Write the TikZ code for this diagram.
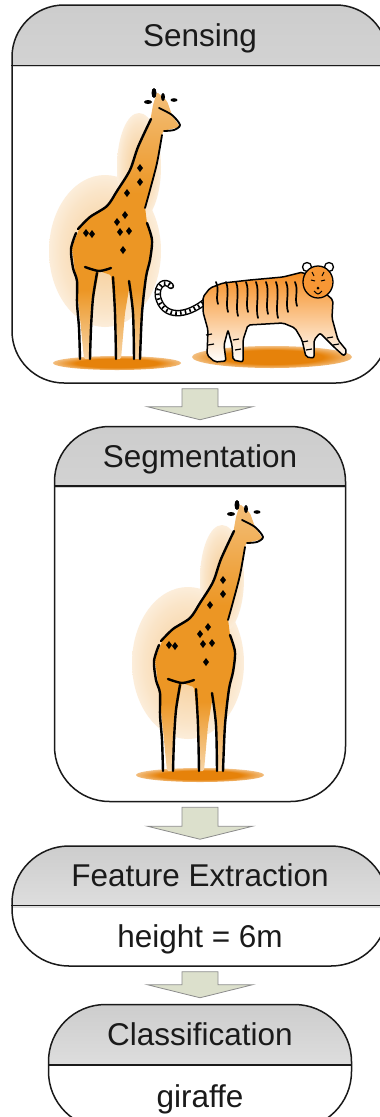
\documentclass[tikz,border=0pt]{standalone}
\usepackage{fontspec}
\setmainfont{Liberation Sans}
\usetikzlibrary{positioning}
\definecolor{ink}{RGB}{26,26,26}
\definecolor{headtop}{RGB}{188,188,188}
\definecolor{headbottom}{RGB}{250,250,250}
\definecolor{arrowfill}{RGB}{220,224,204}
\definecolor{arrowline}{RGB}{140,140,140}
\definecolor{giraffeorange}{RGB}{236,150,36}
\definecolor{tigerorange}{RGB}{246,140,30}
\definecolor{pooltone}{RGB}{230,130,10}
\pgfdeclareverticalshading{headshade}{100bp}{color(0bp)=(headbottom); color(8bp)=(headbottom); color(100bp)=(headtop)}
\pgfdeclareverticalshading{giraffebody}{100bp}{color(0bp)=(giraffeorange!15); color(25bp)=(giraffeorange!40);
  color(38bp)=(giraffeorange); color(56bp)=(giraffeorange); color(78bp)=(giraffeorange!55); color(100bp)=(giraffeorange!15)}
\pgfdeclareradialshading{pool}{\pgfpointorigin}{color(0bp)=(pooltone); color(16bp)=(pooltone); color(35bp)=(white); color(50bp)=(white)}
\pgfdeclareradialshading{giraffeglow}{\pgfpointorigin}{color(0bp)=(giraffeorange!50); color(20bp)=(giraffeorange!25); color(35bp)=(white); color(50bp)=(white)}
\tikzset{stage/.style={draw=ink, line width=1.5pt, fill=white, rounded corners=#1, inner sep=0pt,
    path picture={\shade[sharp corners, shading=headshade]
      (path picture bounding box.north west) rectangle ([yshift=-61pt]path picture bounding box.north east);}},
  stage/.default=52pt}
\tikzset{stage title/.style={font=\fontsize{31.5pt}{36pt}\selectfont, text=ink, minimum height=61pt,
    inner sep=0pt, text height=22.5pt, text depth=0pt}}
\tikzset{step arrow/.style={draw=arrowline, fill=arrowfill, line width=0.8pt, line join=miter}}
\tikzset{brush/.style={draw=black, line width=2.4pt, line cap=round, line join=round}}
\tikzset{giraffe/.pic={
    \shade[shading=giraffeglow] (-12,-112) ellipse (56 and 76);
    \shade[shading=giraffeglow] (22,-196) ellipse (22 and 54);
    \shade[shading=pool] (0,0) ellipse (64 and 7);
    \shade[shading=giraffebody, rounded corners=1.5pt] (63,-236) -- (46,-232) -- (40,-200) -- (33,-173) -- (28,-156)
      -- (30,-140) -- (35,-123) -- (33,-103) -- (29,-86) -- (25,-50) -- (23,-4) -- (17,-4) -- (16,-50)
      -- (13,-80) -- (8,-50) -- (4,-4) -- (-2,-4) -- (-2,-50) -- (-6,-88) -- (-18,-92) -- (-24,-60)
      -- (-27,-4) -- (-33,-4) -- (-37,-45) -- (-41,-83) -- (-45,-116) -- (-37,-136) -- (-27,-146)
      -- (-10,-156) -- (0,-170) -- (13,-193) -- (21,-216) -- (33,-241) -- (36,-258) -- (40,-271)
      -- (50,-262) -- (55,-248) -- cycle;
    \draw[brush] plot[smooth] coordinates {(34,-244) (21,-216) (13,-193) (0,-172) (-10,-157) (-27,-146) (-39,-134)};
    \draw[brush] plot[smooth] coordinates {(-41,-130) (-46,-114) (-44,-95) (-40,-82) (-40,-60) (-38,-35) (-37,-4)};
    \draw[brush] plot[smooth] coordinates {(-20,-90) (-24,-65) (-26,-35) (-27,-4)};
    \draw[brush] plot[smooth] coordinates {(-32,-96) (-18,-92) (-6,-95)};
    \draw[brush] plot[smooth] coordinates {(-4,-86) (-2,-50) (-1,-4)};
    \draw[brush] plot[smooth] coordinates {(12,-82) (16,-50) (17,-4)};
    \draw[brush] plot[smooth] coordinates {(30,-140) (35,-123) (33,-103) (29,-86) (25,-50) (23,-4)};
    \draw[brush, line width=1.8pt] plot[smooth] coordinates {(28,-155) (33,-173) (40,-200) (45,-228)};
    \draw[brush, line width=1.8pt] plot[smooth] coordinates {(42,-255) (55,-248) (63,-238) (57,-233) (47,-232)};
    \fill (37,-270) ellipse (2.5 and 5);
    \fill (46,-266) ellipse (2 and 4);
    \fill (31,-261) ellipse (4 and 2);
    \fill (57,-263) ellipse (3.5 and 1.8);
    \foreach \px/\py in {23/-195, 23/-181, 10/-170, 8/-148, 0/-141, 3/-131, 12/-132, 6/-113, -31/-130, -25/-129}
      \fill (\px,\py-4) -- (\px+3,\py) -- (\px,\py+4) -- (\px-3,\py) -- cycle;
  }}

\begin{document}
\begin{tikzpicture}[x=1pt, y=-1pt]
  \useasboundingbox (0,0) rectangle (380,1117);
  \clip (0,0) rectangle (380,1117);

  \node[stage=52pt, minimum width=376pt, minimum height=378pt] (sense) at (200,194) {};
  \node[stage=55pt, minimum width=291pt, minimum height=375pt, below=42pt of sense] (seg) {};
  \node[stage=57pt, minimum width=376pt, minimum height=120pt, below=43pt of seg] (feat) {};
  \node[stage=57pt, minimum width=303pt, minimum height=124pt, below=37pt of feat] (class) {};

  \node[stage title, below=0pt of sense.north] (tsense) {Sensing};
  \node[stage title, minimum height=60pt, below=0pt of seg.north] (tseg) {Segmentation};
  \node[stage title, minimum height=60pt, below=0pt of feat.north] (tfeat) {Feature Extraction};
  \node[stage title, below=0pt of class.north] (tclass) {Classification};
  \node[stage title, minimum height=60pt, below=0pt of tfeat] (vfeat) {height = 6m};
  \node[stage title, minimum height=62pt, below=0pt of tclass] (vclass) {giraffe};

  \foreach \s in {sense,seg,feat,class}
    \draw[ink, line width=1.5pt] (\s.west |- t\s.south) -- (\s.east |- t\s.south);

  \pic at (117,363) {giraffe};
  \pic at (200,775) {giraffe};

  % tiger
  \shade[shading=pool] (272,357) ellipse (80 and 11);
  \draw[line width=6.5pt, line cap=round, postaction={draw=white, line width=3.6pt},
      postaction={draw=black, line width=3.6pt, line cap=butt, dash pattern=on 1.6pt off 3.2pt}]
    (207,300) .. controls (186,318) and (163,318) .. (158,297) .. controls (156,285) and (165,279) .. (171,286);
  \shadedraw[top color=tigerorange, middle color=tigerorange!80, bottom color=white, draw=black,
      line width=1.5pt, rounded corners=2pt]
    (303,272) -- (283,277) -- (250,280) -- (223,283) -- (210,288) -- (203,297) -- (203,312) -- (208,330)
    -- (207,355) -- (215,362) -- (226,361) -- (224,345) -- (228,330) -- (232,345) -- (233,360) -- (243,362)
    -- (243,340) -- (248,325) -- (283,323) -- (295,328) -- (302,340) -- (306,357) -- (314,358) -- (314,340)
    -- (320,333) -- (335,348) -- (344,356) -- (347,351) -- (338,340) -- (332,318) -- (333,300) -- (325,293) -- cycle;
  \foreach \sx/\len in {216/22, 226/30, 236/34, 246/30, 256/36, 266/32, 276/36, 286/30, 295/24}
    \draw[line width=1.7pt, line cap=round] (\sx,282) .. controls +(4,10) and +(-3,-10) .. +(2,\len);
  \foreach \lx/\ly in {209/335, 211/345, 236/340, 238/350, 305/342, 309/350, 330/338, 336/345}
    \draw[line width=1.2pt] (\lx-3,\ly) -- (\lx+3,\ly-1);
  \filldraw[fill=white, line width=1.3pt] (307,267) circle (4.5) (329,267) circle (4.5);
  \filldraw[fill=tigerorange!90, line width=1.3pt] (318,282) ellipse (15 and 16);
  \draw[line width=1pt] (311,280) -- (315,281) (321,281) -- (325,280)
    (314,291) .. controls (318,295) .. (322,291) (312,272) -- (314,276) (324,272) -- (322,276);
  \fill (318,288) circle (1.5);

  \foreach \a/\b in {sense/seg, seg/feat, feat/class}
    \draw[step arrow] ([xshift=-18pt,yshift=-5pt]\a.south) -- ([xshift=-18pt,yshift=19pt]\b.north)
      -- ([xshift=-52.5pt,yshift=19pt]\b.north) -- ([yshift=6pt]\b.north)
      -- ([xshift=52.5pt,yshift=19pt]\b.north) -- ([xshift=18pt,yshift=19pt]\b.north)
      -- ([xshift=18pt,yshift=-5pt]\a.south) -- cycle;
\end{tikzpicture}
\end{document}
